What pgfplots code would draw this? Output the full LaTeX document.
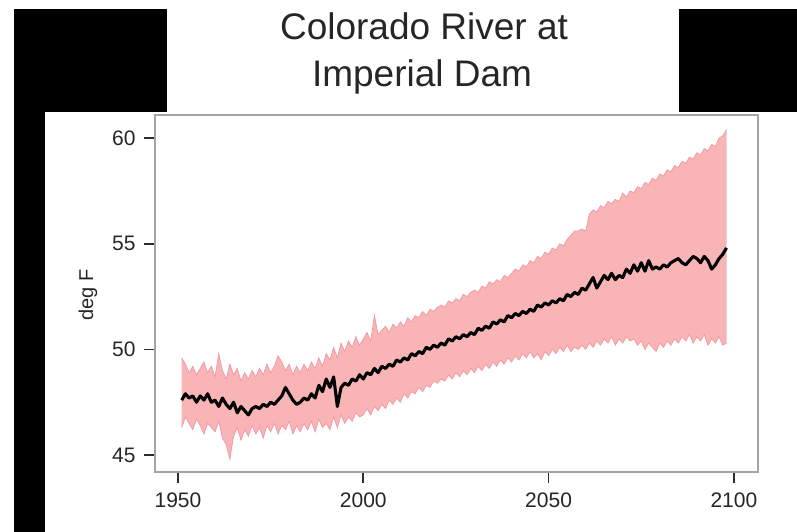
\documentclass[border=0pt]{standalone}
\usepackage{pgfplots}
\pgfplotsset{compat=1.18}
\usepackage{pgfplotstable}
\usepgfplotslibrary{fillbetween}
\usepackage{fontspec}
\setmainfont{Liberation Sans}
\definecolor{ribbon}{RGB}{249,180,182}
\definecolor{ribedge}{RGB}{243,150,162}
\definecolor{boxgray}{RGB}{165,165,165}
\definecolor{tickc}{RGB}{45,45,45}

\pgfplotstableread{
year mean lo hi
1951 47.6 46.3 49.6
1952 47.9 46.8 49.3
1953 47.7 46.5 48.9
1954 47.8 46.2 49.2
1955 47.5 46.7 48.8
1956 47.8 46.4 49.1
1957 47.6 46.0 49.4
1958 47.9 46.5 48.9
1959 47.5 46.3 49.2
1960 47.6 46.1 48.7
1961 47.3 46.6 49.8
1962 47.7 45.8 49.0
1963 47.4 45.5 48.6
1964 47.2 44.8 49.3
1965 47.5 45.9 48.8
1966 47.0 46.3 49.1
1967 47.3 45.7 48.5
1968 47.1 46.2 48.9
1969 46.9 45.9 48.6
1970 47.2 46.4 49.0
1971 47.3 46.0 48.7
1972 47.2 46.3 49.1
1973 47.4 45.8 48.8
1974 47.3 46.4 49.3
1975 47.5 46.1 48.9
1976 47.4 46.5 49.2
1977 47.6 46.0 49.7
1978 47.8 46.4 49.4
1979 48.2 46.2 49.0
1980 47.9 46.6 49.3
1981 47.6 46.0 48.8
1982 47.4 46.4 49.2
1983 47.5 46.1 48.9
1984 47.7 46.5 49.3
1985 47.6 46.2 49.0
1986 47.9 46.6 49.4
1987 47.7 46.1 49.1
1988 48.3 46.7 49.6
1989 48.0 46.3 49.2
1990 48.6 46.5 49.8
1991 48.2 46.2 49.5
1992 48.7 46.8 50.1
1993 47.3 46.3 49.6
1994 48.2 46.9 50.3
1995 48.4 46.5 49.9
1996 48.3 46.8 50.4
1997 48.6 46.6 50.1
1998 48.5 47.0 50.6
1999 48.8 46.8 50.2
2000 48.6 46.9 50.5
2001 48.9 47.2 50.8
2002 48.8 46.9 50.4
2003 49.1 47.3 51.6
2004 48.9 47.1 50.7
2005 49.2 47.4 50.9
2006 49.1 47.2 51.1
2007 49.3 47.6 50.8
2008 49.2 47.4 51.2
2009 49.5 47.7 51.0
2010 49.4 47.5 51.3
2011 49.6 47.9 51.1
2012 49.5 47.7 51.5
2013 49.8 48.0 51.3
2014 49.7 47.9 51.6
2015 49.9 48.2 51.5
2016 49.8 48.0 51.8
2017 50.1 48.3 51.6
2018 50.0 48.2 51.9
2019 50.2 48.5 51.8
2020 50.1 48.4 52.0
2021 50.3 48.6 52.1
2022 50.2 48.5 52.0
2023 50.5 48.8 52.3
2024 50.4 48.6 52.2
2025 50.6 48.9 52.4
2026 50.5 48.7 52.3
2027 50.7 49.0 52.6
2028 50.6 48.8 52.5
2029 50.8 49.1 52.7
2030 50.7 48.9 52.8
2031 51.0 49.2 52.7
2032 50.9 49.0 53.0
2033 51.1 49.3 52.9
2034 51.0 49.1 53.2
2035 51.3 49.4 53.1
2036 51.2 49.2 53.3
2037 51.4 49.5 53.2
2038 51.3 49.3 53.5
2039 51.6 49.6 53.4
2040 51.5 49.4 53.6
2041 51.7 49.7 53.8
2042 51.6 49.5 53.7
2043 51.8 49.8 54.0
2044 51.7 49.6 53.9
2045 51.9 49.9 54.2
2046 51.8 49.6 54.1
2047 52.1 49.8 54.4
2048 52.0 49.5 54.3
2049 52.2 49.9 54.6
2050 52.1 49.7 54.5
2051 52.3 50.0 54.8
2052 52.2 49.8 54.7
2053 52.4 50.1 55.0
2054 52.3 49.9 54.9
2055 52.6 50.2 55.2
2056 52.5 49.9 55.4
2057 52.7 50.1 55.6
2058 52.6 50.0 55.6
2059 52.9 50.2 55.7
2060 52.8 50.0 55.6
2061 53.1 50.3 56.4
2062 53.4 50.1 56.6
2063 52.9 50.4 56.5
2064 53.2 50.2 56.8
2065 53.5 50.5 56.7
2066 53.3 50.3 57.0
2067 53.6 50.6 56.9
2068 53.3 50.2 57.1
2069 53.5 50.5 57.0
2070 53.4 50.3 57.4
2071 53.8 50.6 57.2
2072 53.6 50.4 57.5
2073 54.0 50.5 57.4
2074 53.7 50.2 57.7
2075 54.1 50.4 57.6
2076 53.7 50.0 57.9
2077 54.2 50.3 57.8
2078 53.8 50.1 58.1
2079 53.9 49.9 58.0
2080 53.8 50.3 58.3
2081 54.0 50.1 58.2
2082 53.9 50.4 58.5
2083 54.1 50.2 58.4
2084 54.2 50.5 58.7
2085 54.3 50.3 58.6
2086 54.1 50.6 58.9
2087 54.0 50.4 58.8
2088 54.2 50.7 59.1
2089 54.4 50.3 59.0
2090 54.3 50.6 59.3
2091 54.1 50.4 59.2
2092 54.4 50.7 59.5
2093 54.2 50.2 59.4
2094 53.8 50.5 59.7
2095 54.0 50.3 59.6
2096 54.3 50.6 60.0
2097 54.5 50.2 60.1
2098 54.8 50.3 60.4
}\data

\begin{document}
\begin{tikzpicture}
% black surround
\fill[black] (14pt,523pt) rectangle (167pt,420pt);
\fill[black] (679pt,523pt) rectangle (797pt,420pt);
\fill[black] (14pt,420pt) rectangle (45pt,0pt);
% title
\node[anchor=base, font=\fontsize{37}{44}\selectfont, text=black!85] at (424pt,492pt) {Colorado River at};
\node[anchor=base, font=\fontsize{37}{44}\selectfont, text=black!85] at (422pt,445pt) {Imperial Dam};
% y label
\node[rotate=90, anchor=base, font=\fontsize{20}{24}\selectfont, text=black!85] at (93pt,237pt) {deg F};
\begin{axis}[
  at={(155pt,60pt)}, anchor=south west,
  scale only axis, width=603pt, height=357pt,
  xmin=1943.8, xmax=2106.5, ymin=44.2, ymax=61.09,
  xtick={1950,2000,2050,2100}, ytick={45,50,55,60},
  xtick pos=bottom, ytick pos=left,
  tick align=outside,
  major tick length=11pt,
  every tick/.style={tickc, line width=1.6pt},
  axis line style={boxgray, line width=1.3pt},
  /pgf/number format/assume math mode=true,
  /pgf/number format/1000 sep={},
  tick label style={font=\fontsize{21}{24}\selectfont, text=black!85},
  xticklabel style={yshift=-6pt},
  yticklabel style={xshift=-5pt},
]
\addplot[name path=hi, draw=ribedge, line width=0.7pt] table[x=year,y=hi]{\data};
\addplot[name path=lo, draw=ribedge, line width=0.7pt] table[x=year,y=lo]{\data};
\addplot[fill=ribbon, draw=none] fill between[of=hi and lo];
\addplot[black, line width=3.1pt, line join=round] table[x=year,y=mean]{\data};
\end{axis}
\pgfresetboundingbox
\path[use as bounding box] (0pt,0pt) rectangle (797pt,532pt);
\end{tikzpicture}
\end{document}
